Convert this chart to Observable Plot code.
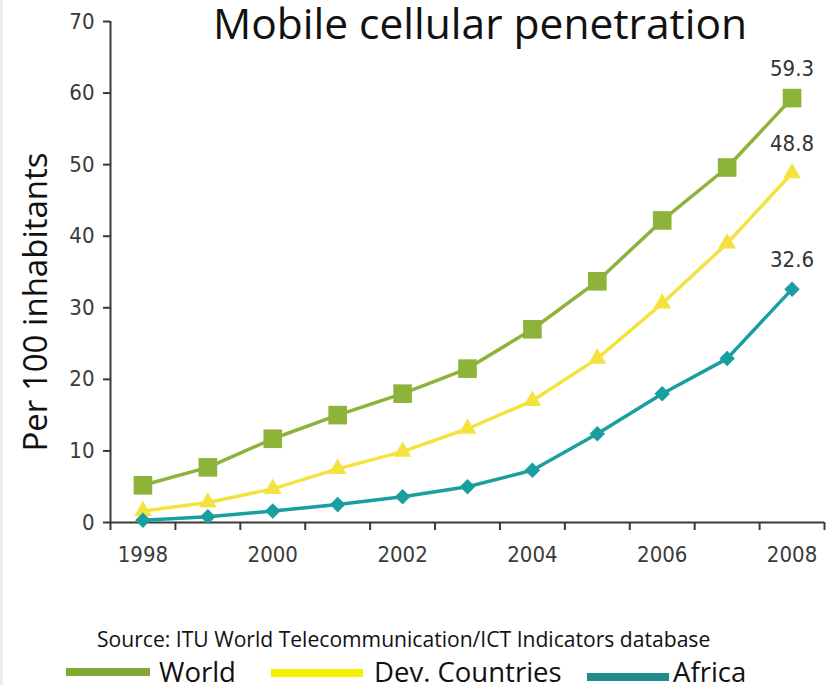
<!DOCTYPE html>
<html>
<head>
<meta charset="utf-8">
<script src="https://cdn.jsdelivr.net/npm/d3@7"></script>
<script src="https://cdn.jsdelivr.net/npm/@observablehq/plot@0.6"></script>
<style>
  html, body { margin: 0; padding: 0; background: #fff; }
  #chart { width: 828px; height: 685px; overflow: hidden; }
</style>
</head>
<body>
<div id="chart"></div>
<script>
// ---- data ----
const years = [1998, 1999, 2000, 2001, 2002, 2003, 2004, 2005, 2006, 2007, 2008];
const world = [5.2, 7.7, 11.7, 15.0, 18.0, 21.5, 27.0, 33.7, 42.2, 49.6, 59.3];
const devCountries = [1.6, 2.8, 4.7, 7.5, 9.9, 13.1, 17.0, 22.9, 30.6, 39.0, 48.8];
const africa = [0.3, 0.8, 1.6, 2.5, 3.6, 5.0, 7.3, 12.4, 18.0, 22.9, 32.6];
const seriesNames = ["World", "Dev. Countries", "Africa"];
const xTickLabels = [1998, 2000, 2002, 2004, 2006, 2008];
const yTickValues = [0, 10, 20, 30, 40, 50, 60, 70];
const titleText = "Mobile cellular penetration";
const yLabelText = "Per 100 inhabitants";
const sourceText = "Source: ITU World Telecommunication/ICT Indicators database";

// ---- styles ----
const lineColors = {"World": "#8db33a", "Dev. Countries": "#f4e23e", "Africa": "#1a9fa0"};
const legendColors = {"World": "#82aa32", "Dev. Countries": "#f2f200", "Africa": "#218b8b"};
const diamond = {
  draw(ctx, size) {
    const h = Math.sqrt(size / 2);
    ctx.moveTo(0, -h); ctx.lineTo(h, 0); ctx.lineTo(0, h); ctx.lineTo(-h, 0); ctx.closePath();
  }
};
const markerStyle = {
  "World": {symbol: "square", r: 10.5},
  "Dev. Countries": {symbol: "triangle", r: 6.6},
  "Africa": {symbol: diamond, r: 6.2}
};
const narrow = `"Liberation Sans Narrow","Arial Narrow","DejaVu Sans Condensed",sans-serif`;
const sans = `"Open Sans","Noto Sans",sans-serif`;

// ---- table ----
const seriesValues = {"World": world, "Dev. Countries": devCountries, "Africa": africa};
const rows = seriesNames.flatMap(name =>
  years.map((year, i) => ({series: name, year, value: seriesValues[name][i]}))
);
const lastRows = seriesNames.map(name => rows.filter(d => d.series === name).at(-1));

const xDomain = [years[0] - 0.5, years[years.length - 1] + 0.5];
const bandEdges = d3.range(xDomain[0], xDomain[1] + 0.001, 1);

const W = 828, H = 685;
const plot = Plot.plot({
  width: W,
  height: H,
  marginLeft: 110,
  marginRight: 4,
  marginTop: 21,
  marginBottom: 163,
  style: {fontFamily: narrow, background: "transparent", overflow: "visible"},
  x: {domain: xDomain},
  y: {domain: [0, 70]},
  marks: [
    Plot.axisY({ticks: yTickValues, tickSize: 7, tickPadding: 9, fontSize: 22, color: "#3a3a3a",
      strokeWidth: 2, label: null, tickFormat: d => String(d)}),
    Plot.axisX({ticks: bandEdges, tickSize: 8, tickFormat: () => "", color: "#3a3a3a",
      strokeWidth: 2, label: null}),
    Plot.axisX({ticks: xTickLabels, tickSize: 0, tickPadding: 24, fontSize: 22, color: "#3a3a3a",
      label: null, tickFormat: d => String(d)}),
    Plot.ruleY([0], {stroke: "#3a3a3a", strokeWidth: 2}),
    Plot.ruleX([xDomain[0]], {stroke: "#3a3a3a", strokeWidth: 2}),
    Plot.line(rows, {x: "year", y: "value", z: "series", stroke: d => lineColors[d.series], strokeWidth: 3.5}),
    ...seriesNames.map(name =>
      Plot.dot(rows.filter(d => d.series === name), {
        x: "year", y: "value", fill: lineColors[name],
        symbol: markerStyle[name].symbol, r: markerStyle[name].r
      })
    ),
    Plot.text(lastRows, {x: "year", y: "value", text: d => d.value.toFixed(1), dy: -29,
      fontSize: 22, fill: "#333", fontFamily: narrow}),
    Plot.text([yLabelText], {frameAnchor: "left", textAnchor: "middle", rotate: -90, dx: -74, dy: 30,
      fontSize: 33, fontFamily: sans, fill: "#111"})
  ]
});

document.getElementById("chart").appendChild(plot);

// ---- title, caption, legend drawn into the same SVG ----
const svg = d3.select(plot);
svg.insert("rect", ":first-child").attr("x", 0).attr("y", 0).attr("width", 3).attr("height", H).attr("fill", "#ececec");
svg.append("text").text(titleText)
  .attr("x", 480).attr("y", 39).attr("text-anchor", "middle")
  .attr("font-family", sans).attr("font-size", 42.5).attr("fill", "#111");
svg.append("text").text(sourceText)
  .attr("x", 97).attr("y", 647).attr("text-anchor", "start")
  .attr("font-family", sans).attr("font-size", 21.1).attr("fill", "#111");

const legendLayout = [
  {name: "World", x1: 66, x2: 150, y: 668, tx: 159},
  {name: "Dev. Countries", x1: 271, x2: 363, y: 669, tx: 374},
  {name: "Africa", x1: 587, x2: 669, y: 673, tx: 673}
];
const lg = svg.append("g");
legendLayout.forEach(l => {
  lg.append("rect").attr("x", l.x1).attr("y", l.y).attr("width", l.x2 - l.x1).attr("height", 8)
    .attr("fill", legendColors[l.name]);
  lg.append("text").text(l.name).attr("x", l.tx).attr("y", 682).attr("text-anchor", "start")
    .attr("font-family", sans).attr("font-size", 27.5).attr("fill", "#111");
});
</script>
</body>
</html>
